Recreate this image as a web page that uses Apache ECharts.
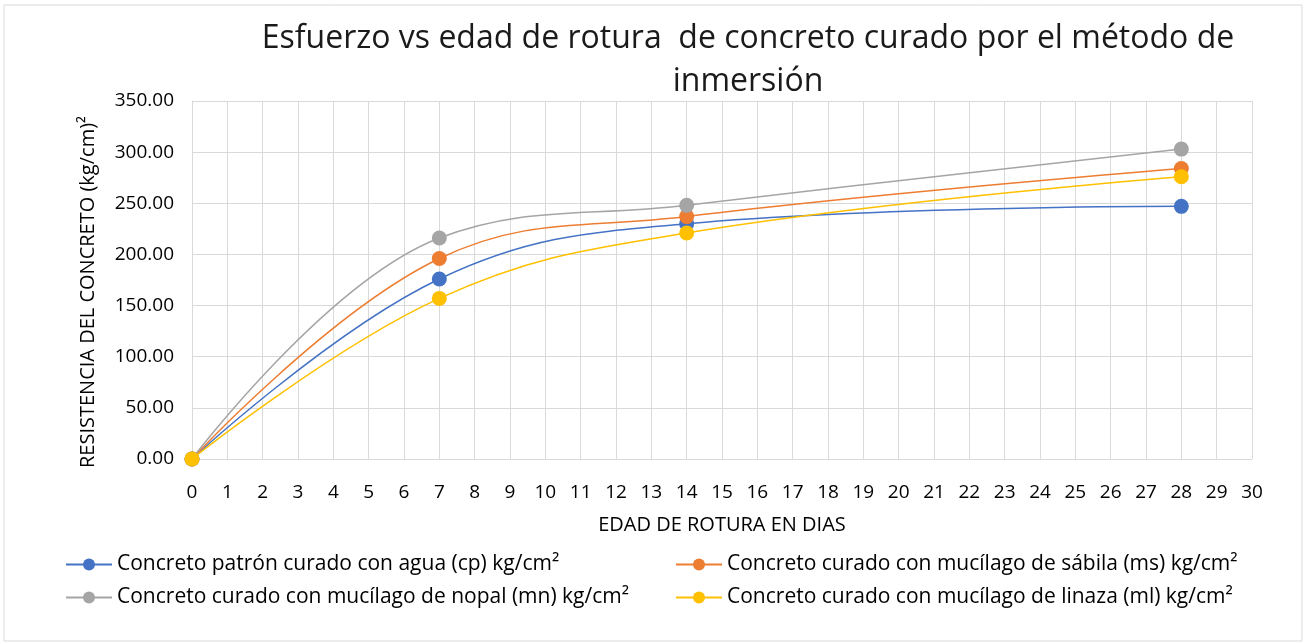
<!DOCTYPE html>
<html>
<head>
<meta charset="utf-8">
<script src="https://cdn.jsdelivr.net/npm/echarts@6/dist/echarts.min.js"></script>
<style>
  html, body { margin: 0; padding: 0; background: #fff; }
  #chart { width: 1307px; height: 644px; }
</style>
</head>
<body>
<div id="chart"></div>
<script>
// edades de rotura (días)
const edades = [0, 7, 14, 28];

// resistencia por tipo de curado (kg/cm²)
const patronAgua = [0, 176, 230, 247];
const sabila = [0, 196, 237, 284];
const nopal = [0, 216, 248, 303];
const linaza = [0, 157, 221, 276];

const nombres = [
    'Concreto patrón curado con agua (cp) kg/cm²',
    'Concreto curado con mucílago de sábila (ms) kg/cm²',
    'Concreto curado con mucílago de nopal (mn) kg/cm²',
    'Concreto curado con mucílago de linaza (ml) kg/cm²'
];

const colores = ['#4472C4', '#ED7D31', '#A5A5A5', '#FFC000'];

const fuente = 'Open Sans';

function serie(i, valores) {
    return {
        name: nombres[i],
        type: 'line',
        smooth: 0.4,
        symbol: 'circle',
        symbolSize: 15,
        data: edades.map((x, k) => [x, valores[k]]),
        lineStyle: { width: 1.5, color: colores[i] },
        itemStyle: { color: colores[i] },
        z: 2 + i
    };
}

const chart = echarts.init(document.getElementById('chart'));

const leyenda = {
    orient: 'vertical',
    top: 549,
    itemWidth: 46,
    itemHeight: 15,
    itemGap: 12,
    textStyle: { fontSize: 21, color: '#000', fontFamily: fuente }
};

const option = {
    animation: false,
    backgroundColor: '#fff',
    textStyle: { fontFamily: fuente },
    title: {
        text: 'Esfuerzo vs edad de rotura  de concreto curado por el método de\ninmersión',
        left: 743,
        top: 12,
        textAlign: 'center',
        textStyle: {
            fontFamily: fuente,
            fontSize: 32,
            fontWeight: 'normal',
            color: '#1a1a1a',
            lineHeight: 43
        }
    },
    graphic: [{
        type: 'rect',
        shape: { x: 4, y: 5, width: 1298, height: 636 },
        style: { fill: 'none', stroke: '#d9d9d9', lineWidth: 1 },
        silent: true
    }],
    grid: {
        left: 192,
        right: 55,
        top: 101,
        bottom: 185
    },
    xAxis: {
        type: 'value',
        min: 0,
        max: 30,
        interval: 1,
        name: 'EDAD DE ROTURA EN DIAS',
        nameLocation: 'middle',
        nameGap: 56,
        nameTextStyle: { fontSize: 20, color: '#000', fontFamily: fuente },
        axisLine: { show: false },
        axisTick: { show: false },
        axisLabel: { fontSize: 19, color: '#000', margin: 24 },
        splitLine: { show: true, lineStyle: { color: '#d9d9d9', width: 1 } }
    },
    yAxis: {
        type: 'value',
        min: 0,
        max: 350,
        interval: 50,
        name: 'RESISTENCIA DEL CONCRETO (kg/cm)²',
        nameLocation: 'middle',
        nameGap: 94,
        nameRotate: 90,
        nameTextStyle: {
            fontSize: 20,
            color: '#000',
            fontFamily: fuente,
            padding: [0, 24, 0, 0]
        },
        axisLine: { show: true, lineStyle: { color: '#d9d9d9' } },
        axisTick: { show: false },
        axisLabel: {
            fontSize: 19,
            color: '#000',
            margin: 18,
            formatter: v => v.toFixed(2)
        },
        splitLine: { show: true, lineStyle: { color: '#d9d9d9', width: 1 } }
    },
    legend: [
        Object.assign({}, leyenda, { data: [nombres[0], nombres[2]], left: 60 }),
        Object.assign({}, leyenda, { data: [nombres[1], nombres[3]], left: 670 })
    ],
    series: [
        serie(0, patronAgua),
        serie(1, sabila),
        serie(2, nopal),
        serie(3, linaza)
    ]
};

chart.setOption(option);

window.addEventListener('resize', function() {
    chart.resize();
});
</script>
</body>
</html>
